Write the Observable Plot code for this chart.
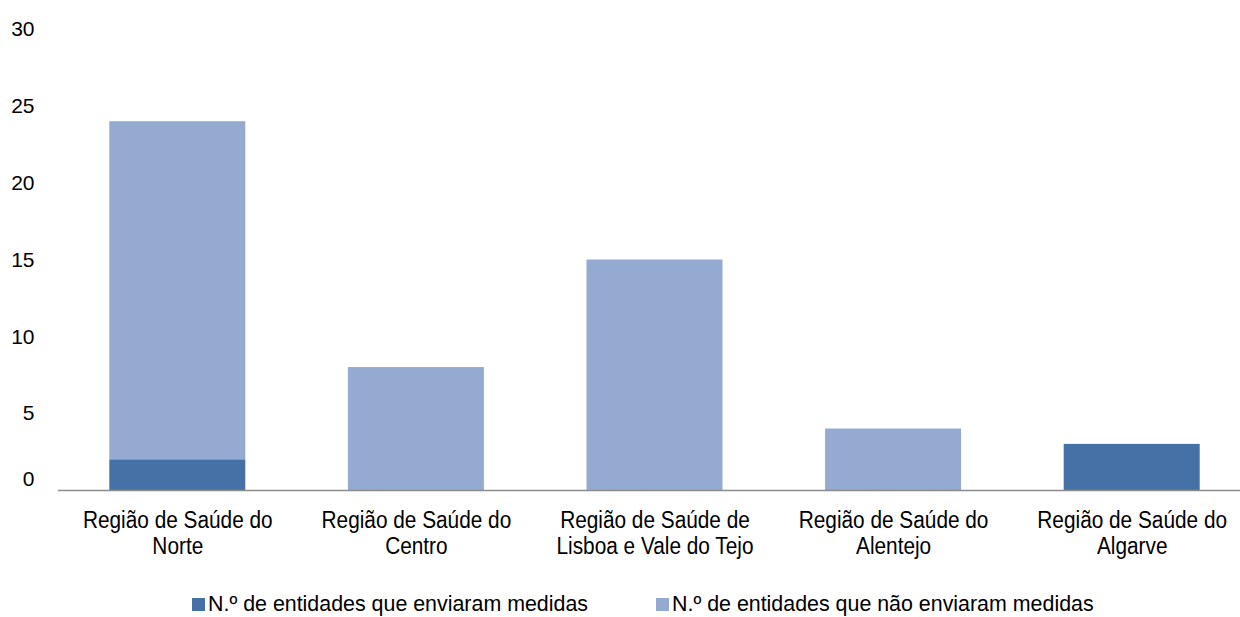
<!DOCTYPE html>
<html>
<head>
<meta charset="utf-8">
<script src="https://cdn.jsdelivr.net/npm/d3@7"></script>
<script src="https://cdn.jsdelivr.net/npm/@observablehq/plot@0.6"></script>
<style>
  html, body { margin: 0; padding: 0; background: #fff; overflow: hidden; }
  body { width: 1240px; height: 617px; font-family: "Liberation Sans", Arial, sans-serif; }
  #legend { display: flex; align-items: center; height: 37px; padding-top: 6px; padding-left: 192px; font-size: 21.4px; color: #000; }
  .item { display: flex; align-items: center; }
  .sw { width: 13px; height: 13px; margin-right: 3px; }
</style>
</head>
<body>
<div id="chart"></div>
<div id="legend"></div>
<script>
const regions = [
  "Região de Saúde do\nNorte",
  "Região de Saúde do\nCentro",
  "Região de Saúde de\nLisboa e Vale do Tejo",
  "Região de Saúde do\nAlentejo",
  "Região de Saúde do\nAlgarve"
];
const seriesNames = [
  "N.º de entidades que enviaram medidas",
  "N.º de entidades que não enviaram medidas"
];
const enviaram = [2, 0, 0, 0, 3];
const naoEnviaram = [22, 8, 15, 4, 0];
const colors = ["#4571a6", "#95aad1"];
const yTicks = [0, 5, 10, 15, 20, 25, 30];

const data = [];
regions.forEach((r, i) => {
  data.push({region: r, series: seriesNames[0], value: enviaram[i]});
  data.push({region: r, series: seriesNames[1], value: naoEnviaram[i]});
});

const chart = Plot.plot({
  width: 1240,
  height: 580,
  marginLeft: 58,
  marginRight: 0,
  marginTop: 29,
  marginBottom: 90,
  style: {fontFamily: "'Liberation Sans', Arial, sans-serif", fontSize: "21px", color: "#000", background: "#fff"},
  x: {domain: regions, range: [58, 1251], paddingInner: 0.43, paddingOuter: 0.215, round: false, label: null},
  y: {domain: [0, 30], label: null},
  color: {domain: seriesNames, range: colors},
  marks: [
    Plot.barY(data, {x: "region", y: "value", fill: "series", order: seriesNames}),
    Plot.ruleY([0], {stroke: "#8c8c8c", strokeWidth: 1.5}),
    Plot.axisY(yTicks.filter(d => d !== 0), {tickSize: 0, tickPadding: 24, fontSize: 21, label: null}),
    Plot.axisY([0], {tickSize: 0, tickPadding: 24, fontSize: 21, dy: -11, label: null}),
    Plot.axisX({tickSize: 0, tickPadding: 19, fontSize: 23, lineHeight: 1.13, label: null, className: "xcat"})
  ]
});
document.getElementById("chart").appendChild(chart);
// slightly condensed glyphs, as in the reference
chart.querySelectorAll("g[aria-label='x-axis tick label'] text").forEach(t => {
  const tr = t.getAttribute("transform") || "";
  t.setAttribute("transform", tr + " scale(0.905,1)");
});

const legend = document.getElementById("legend");
seriesNames.forEach((s, i) => {
  const item = document.createElement("div");
  item.className = "item";
  if (i > 0) item.style.marginLeft = "68px";
  const sw = document.createElement("div");
  sw.className = "sw";
  sw.style.background = colors[i];
  const t = document.createElement("span");
  t.textContent = s;
  item.appendChild(sw);
  item.appendChild(t);
  legend.appendChild(item);
});
</script>
</body>
</html>
